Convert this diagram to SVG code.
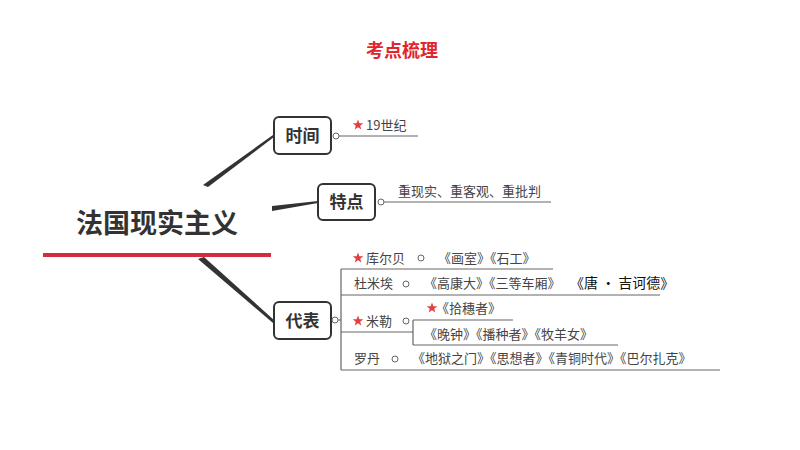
<svg xmlns="http://www.w3.org/2000/svg" width="800" height="450" viewBox="0 0 800 450">
<style>
text{font-family:"Noto Sans CJK SC","Noto Sans",sans-serif;}
.box{fill:#fff;stroke:#333;stroke-width:2}
.bt{font-size:17px;font-weight:bold;fill:#333;text-anchor:middle}
.t{font-size:13px;fill:#444}
.ln{stroke:#666;stroke-width:1.2;fill:none}
.c{fill:#fff;stroke:#666;stroke-width:1}
.star{fill:#e0403f}
</style>
<defs>
<polygon id="st" class="star" points="0,-5.5 1.4,-1.8 5.3,-1.7 2.2,0.7 3.3,4.5 0,2.3 -3.3,4.5 -2.2,0.7 -5.3,-1.7 -1.4,-1.8"/>
</defs>
<rect width="800" height="450" fill="#fff"/>
<text x="402" y="57" text-anchor="middle" font-size="18" font-weight="bold" fill="#e0262c">考点梳理</text>
<g id="connectors" fill="#333">
<polygon points="203,185 208,187 274,137 273,135"/>
<polygon points="272,206 272,211 318,203 318,201"/>
<polygon points="198,259 204,257 275,321 273,323"/>
</g>
<g id="root">
<text x="157" y="233" text-anchor="middle" font-size="27" font-weight="bold" fill="#333">法国现实主义</text>
<line x1="43" y1="255" x2="271" y2="255" stroke="#d62a40" stroke-width="4"/>
</g>
<g id="time">
<rect class="box" x="274" y="117" width="57" height="37" rx="5"/>
<text class="bt" x="302.5" y="142">时间</text>
<line class="ln" x1="339" y1="136" x2="418" y2="136"/>
<circle class="c" cx="336" cy="136" r="3"/>
<use href="#st" x="358" y="125"/>
<text class="t" x="366" y="130">19世纪</text>
</g>
<g id="feature">
<rect class="box" x="318" y="184" width="57" height="36" rx="5"/>
<text class="bt" x="346.5" y="208">特点</text>
<line class="ln" x1="384" y1="202" x2="551" y2="202"/>
<circle class="c" cx="381" cy="202" r="3"/>
<text class="t" x="398" y="196">重现实、重客观、重批判</text>
</g>
<g id="rep">
<rect class="box" x="274" y="302" width="57" height="37" rx="5"/>
<text class="bt" x="302.5" y="327">代表</text>
<circle class="c" cx="335" cy="320" r="3"/>
<path class="ln" d="M338,320 H341 M341,269 V370"/>
<path class="ln" d="M341,269 H553 M341,295 H660 M341,332 H413 M341,370 H720"/>
<path class="ln" d="M413,320 V345 M413,320 H513 M413,345 H618"/>
<use href="#st" x="358" y="258"/>
<text class="t" x="366" y="263">库尔贝</text>
<circle class="c" cx="421" cy="258" r="3"/>
<text class="t" x="438" y="263">《画室》《石工》</text>
<text class="t" x="354" y="288">杜米埃</text>
<circle class="c" cx="406" cy="284" r="3"/>
<text class="t" x="424" y="288">《高康大》《三等车厢》</text>
<text x="570" y="288" font-size="14" fill="#111">《唐 · 吉诃德》</text>
<use href="#st" x="358" y="321"/>
<text class="t" x="366" y="326">米勒</text>
<circle class="c" cx="406" cy="321" r="3"/>
<use href="#st" x="432" y="308"/>
<text class="t" x="436" y="313">《拾穗者》</text>
<text class="t" x="424" y="339">《晚钟》《播种者》《牧羊女》</text>
<text class="t" x="354" y="363">罗丹</text>
<circle class="c" cx="395" cy="359" r="3"/>
<text class="t" x="412" y="363">《地狱之门》《思想者》《青铜时代》《巴尔扎克》</text>
</g>
</svg>
